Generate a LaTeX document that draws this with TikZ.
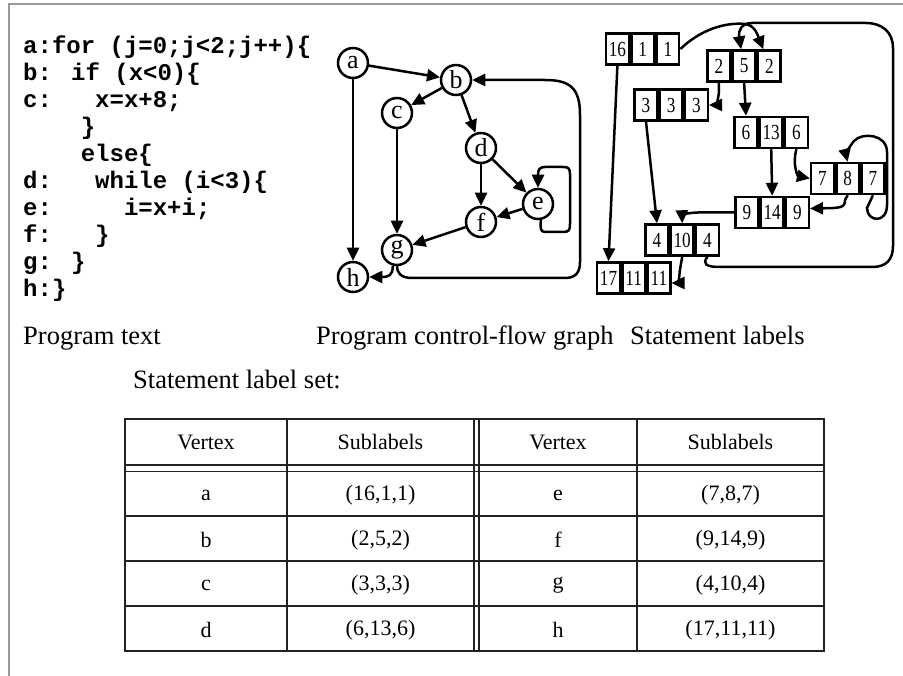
\documentclass[tikz,border=0pt]{standalone}
\usepackage{fontspec}
\setmainfont{Liberation Serif}
\newfontfamily\codefont{Liberation Mono}
\newfontfamily\cellfont[FakeStretch=0.8]{Liberation Serif}
\usetikzlibrary{arrows.meta,calc}

\definecolor{framegray}{HTML}{9A9A9A}
\definecolor{rulecol}{HTML}{222222}

\tikzset{
  arr/.style={line width=2.5pt, -{Triangle[length=13pt,width=12pt]}},
  vtx/.style={circle, draw, line width=2.5pt, minimum size=30pt, inner sep=0pt,
              fill=white, font=\fontsize{26}{26}\selectfont},
  cell/.style={rectangle, draw, line width=2.5pt, minimum width=22.7pt,
               minimum height=31pt, inner sep=0pt, fill=white,
               font=\cellfont\fontsize{21.5}{21.5}\selectfont},
  codeline/.style={anchor=base west, inner sep=0pt,
                   font=\codefont\bfseries\fontsize{24}{24}\selectfont},
  caption/.style={anchor=base west, inner sep=0pt, font=\fontsize{26.5}{26.5}\selectfont},
  tline/.style={line width=1.7pt, draw=rulecol},
  tcell/.style={inner sep=0pt, font=\fontsize{22}{22}\selectfont},
}

% a three-cell statement label: name, x and y of the first cell, three sublabels
\newcommand\lbox[6]{%
  \node[cell] (#1-1) at (#2,#3) {#4};
  \node[cell, anchor=west] (#1-2) at (#1-1.east) {#5};
  \node[cell, anchor=west] (#1-3) at (#1-2.east) {#6};
}

\begin{document}
\begin{tikzpicture}[x=1pt,y=-1pt]
\useasboundingbox (0,0) rectangle (903,676);
\fill[white] (0,0) rectangle (903,676);

% frame
\draw[framegray, line width=2pt] (9,676) -- (9,4.5) -- (903,4.5);

% program text
\node[codeline] (l1)  at (23,54.0)  {a:for (j=0;j<2;j++)\{};
\node[codeline] (l2)  at (23,80.9)  {b: if (x<0)\{};
\node[codeline] (l3)  at (23,107.8) {c:\phantom{xxx}x=x+8;};
\node[codeline] (l4)  at (23,134.7) {\phantom{xxxx}\}};
\node[codeline] (l5)  at (23,161.6) {\phantom{xxxx}else\{};
\node[codeline] (l6)  at (23,188.5) {d:\phantom{xxx}while (i<3)\{};
\node[codeline] (l7)  at (23,215.4) {e:\phantom{xxxxx}i=x+i;};
\node[codeline] (l8)  at (23,242.3) {f:\phantom{xxx}\}};
\node[codeline] (l9)  at (23,269.2) {g: \}};
\node[codeline] (l10) at (23,296.1) {h:\}};

% control-flow graph
\node[vtx] (a) at (353,63)  {a};
\node[vtx] (b) at (456,80)  {b};
\node[vtx] (c) at (397,113) {c};
\node[vtx] (d) at (481,148) {d};
\node[vtx] (e) at (538,204) {e};
\node[vtx] (f) at (481,222) {f};
\node[vtx] (g) at (397,250) {g};
\node[vtx] (h) at (353,277) {h};

\draw[arr] (a) -- (b);
\draw[arr] (a) -- (h);
\draw[arr] (b) -- (c);
\draw[arr] (b) -- (d);
\draw[arr] (c) -- (g);
\draw[arr] (d) -- (f);
\draw[arr] (d) -- (e);
\draw[arr] (e) -- (f);
\draw[arr] (f) -- (g);
\draw[arr] (e.280) -- (540.6,226) .. controls (540.6,232) and (543,232) .. (548,232)
  -- (563,232) .. controls (569,232) and (570,230) .. (570,224)
  -- (570,174) .. controls (570,168) and (568,167) .. (563,167)
  -- (545,167) .. controls (540,167) and (538,169) .. (538,175) -- (e.north);
\draw[arr] (g.south) .. controls (397,272) and (400,278) .. (412,278)
  -- (565,278) .. controls (576,278) and (580,272) .. (580,262)
  -- (580,115) .. controls (580,88) and (570,80) .. (545,80) -- (b.east);
\draw[arr] (g.255) .. controls (393,276) and (388,277) .. (h.east);

% statement labels
\lbox{A}{617.4}{49}{16}{1}{1}
\lbox{B}{718.9}{66}{2}{5}{2}
\lbox{C}{646}{105}{3}{3}{3}
\lbox{D}{746}{132.5}{6}{13}{6}
\lbox{E}{822.5}{178.5}{7}{8}{7}
\lbox{F}{747}{212.5}{9}{14}{9}
\lbox{G}{657}{240}{4}{10}{4}
\lbox{H}{608.5}{278}{17}{11}{11}

\draw[arr] (A-3.east) .. controls (700,30) and (725,22) .. (745,24)
  .. controls (755,25) and (758,36) .. ($(B-3.north)+(-6,0)$);
\draw[arr] (G-3.south) .. controls (702,264) and (706,267) .. (720,267)
  -- (872,267) .. controls (886,267) and (893,260) .. (893,246)
  -- (893,48) .. controls (893,32) and (882,23) .. (866,23)
  -- (752,23) .. controls (742,23) and (738,30) .. ($(B-2.north)+(-3,0)$);
\draw[arr] (B-1.south) -- (719,90) .. controls (719,100) and (714,105) .. (C-3.east);
\draw[arr] (B-2.south) -- (D-1.north);
\draw[arr] (C-1.south) -- (G-1.north);
\draw[arr] (A-1.south) -- (H-1.north);
\draw[arr] (D-2.south) -- (F-2.north);
\draw[arr] (D-3.south) .. controls (792,165) and (798,176) .. (E-1.west);
\draw[arr] (E-3.south) -- (867,208) .. controls (867,222) and (887,224) .. (887,205)
  -- (887,152) .. controls (887,134) and (862,132) .. (854,141)
  .. controls (849,147) and (846,155) .. (E-2.north);
\draw[arr] (E-2.south) -- (845,200) .. controls (845,208) and (840,208) .. ($(F-3.east)+(0,-4)$);
\draw[arr] (F-1.west) -- (698,212.5) .. controls (688,212.5) and (682,216) .. (G-2.north);
\draw[arr] (G-2.south) -- (679.6,272) .. controls (679.6,280) and (676,283) .. ($(H-3.east)+(0,5)$);

% captions
\node[caption] (cap1) at (23,345)  {Program text};
\node[caption] (cap2) at (316,345) {Program control-flow graph};
\node[caption] (cap3) at (630,345) {Statement labels};
\node[caption] (cap4) at (133,389) {Statement label set:};

% label table
\draw[tline] (125,419) rectangle (824,651);
\draw[tline] (125,465) -- (824,465);
\draw[tline] (125,471.5) -- (824,471.5);
\draw[tline] (125,516) -- (824,516);
\draw[tline] (125,561) -- (824,561);
\draw[tline] (125,606) -- (824,606);
\draw[tline] (287,419) -- (287,651);
\draw[tline] (474,419) -- (474,651);
\draw[tline] (479,419) -- (479,651);
\draw[tline] (637,419) -- (637,651);

\node[tcell] (h1) at (206,442)   {Vertex};
\node[tcell] (h2) at (380.5,442) {Sublabels};
\node[tcell] (h3) at (558,442)   {Vertex};
\node[tcell] (h4) at (730.5,442) {Sublabels};

\node[tcell] (va) at (206,495)   {a};
\node[tcell] (sa) at (380.5,495) {(16,1,1)};
\node[tcell] (ve) at (558,495)   {e};
\node[tcell] (se) at (730.5,495) {(7,8,7)};

\node[tcell] (vb) at (206,540)   {b};
\node[tcell] (sb) at (380.5,540) {(2,5,2)};
\node[tcell] (vf) at (558,540)   {f};
\node[tcell] (sf) at (730.5,540) {(9,14,9)};

\node[tcell] (vc) at (206,585)   {c};
\node[tcell] (sc) at (380.5,585) {(3,3,3)};
\node[tcell] (vg) at (558,585)   {g};
\node[tcell] (sg) at (730.5,585) {(4,10,4)};

\node[tcell] (vd) at (206,630)   {d};
\node[tcell] (sd) at (380.5,630) {(6,13,6)};
\node[tcell] (vh) at (558,630)   {h};
\node[tcell] (sh) at (730.5,630) {(17,11,11)};
\end{tikzpicture}
\end{document}
